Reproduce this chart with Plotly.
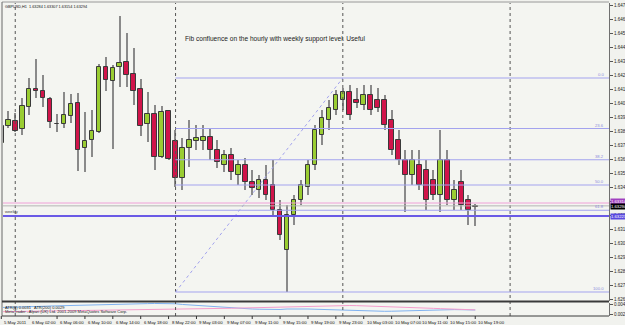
import plotly.graph_objects as go

W, H = 625, 325

symbol_info = "GBPUSD,H1  1.63284 1.63307 1.63154 1.63294"
note_text = "Fib confluence on the hourly with weekly support level. Useful"
atr_text = "ATR(8) 0.0031   ATR(200) 0.0029"
copyright_text = "MetaTrader - Alpari (UK) Ltd. 2001-2009 MetaQuotes Software Corp."

opens = [1.63734, 1.63853, 1.63888, 1.63832, 1.63986, 1.64112, 1.64098, 1.64042, 1.63867, 1.63867,
         1.63923, 1.64014, 1.63699, 1.63755, 1.63811, 1.64266, 1.64168, 1.64266, 1.64301, 1.64217,
         1.64112, 1.63867, 1.63937, 1.63636, 1.63958, 1.63748, 1.63489, 1.63699, 1.63748, 1.63748,
         1.63776, 1.63685, 1.63580, 1.63650, 1.63510, 1.63580, 1.63461, 1.63405, 1.63475, 1.63440,
         1.63265, 1.62985, 1.63230, 1.63335, 1.63426, 1.63580, 1.63790, 1.63895, 1.63965, 1.64035,
         1.64091, 1.64035, 1.64000, 1.64070, 1.64035, 1.64035, 1.63895, 1.63755, 1.63615, 1.63510,
         1.63580, 1.63545, 1.63475, 1.63370, 1.63615, 1.63335, 1.63461, 1.63335, 1.63284]
highs = [1.63916, 1.63958, 1.63944, 1.64049, 1.64189, 1.64322, 1.64210, 1.64056, 1.63937, 1.64091,
         1.64077, 1.64084, 1.63951, 1.63965, 1.64287, 1.64336, 1.64280, 1.64623, 1.64504, 1.64399,
         1.64182, 1.64091, 1.64000, 1.63993, 1.63965, 1.63825, 1.63769, 1.63895, 1.63860, 1.63860,
         1.63839, 1.63755, 1.63685, 1.63699, 1.63615, 1.63629, 1.63545, 1.63510, 1.63580, 1.63615,
         1.63335, 1.63300, 1.63370, 1.63475, 1.63615, 1.63860, 1.63965, 1.64035, 1.64105, 1.64119,
         1.64140, 1.64119, 1.64140, 1.64140, 1.64119, 1.64070, 1.63965, 1.63825, 1.63685, 1.63685,
         1.63685, 1.63615, 1.63545, 1.63825, 1.63685, 1.63475, 1.63545, 1.63370, 1.63307]
lows = [1.63713, 1.63839, 1.63811, 1.63790, 1.63930, 1.64049, 1.63986, 1.63839, 1.63811, 1.63839,
        1.63874, 1.63538, 1.63531, 1.63636, 1.63804, 1.64098, 1.63692, 1.64126, 1.64126, 1.64000,
        1.63783, 1.63741, 1.63545, 1.63629, 1.63615, 1.63426, 1.63405, 1.63566, 1.63685, 1.63685,
        1.63615, 1.63559, 1.63531, 1.63475, 1.63440, 1.63405, 1.63370, 1.63349, 1.63335, 1.63230,
        1.63055, 1.62691, 1.63160, 1.63300, 1.63370, 1.63545, 1.63720, 1.63825, 1.63930, 1.63965,
        1.63895, 1.63979, 1.63965, 1.63930, 1.63951, 1.63825, 1.63650, 1.63580, 1.63251, 1.63440,
        1.63405, 1.63265, 1.63335, 1.63251, 1.63300, 1.63265, 1.63265, 1.63160, 1.63154]
closes = [1.63853, 1.63895, 1.63818, 1.63993, 1.64112, 1.64098, 1.64049, 1.63881, 1.63864, 1.63930,
          1.64007, 1.63685, 1.63748, 1.63818, 1.64266, 1.64175, 1.64259, 1.64294, 1.64210, 1.64098,
          1.63853, 1.63937, 1.63636, 1.63951, 1.63622, 1.63489, 1.63699, 1.63755, 1.63769, 1.63776,
          1.63685, 1.63601, 1.63650, 1.63531, 1.63580, 1.63461, 1.63419, 1.63475, 1.63370, 1.63265,
          1.63090, 1.63230, 1.63335, 1.63440, 1.63580, 1.63825, 1.63909, 1.63979, 1.64070, 1.64091,
          1.63930, 1.64014, 1.64070, 1.63965, 1.63979, 1.63860, 1.63685, 1.63615, 1.63510, 1.63615,
          1.63440, 1.63335, 1.63370, 1.63615, 1.63335, 1.63405, 1.63300, 1.63265, 1.63294]

atr_fast = [0.00350, 0.00352, 0.00356, 0.00361, 0.00366, 0.00373, 0.00377, 0.00384, 0.00389, 0.00391,
            0.00396, 0.00400, 0.00407, 0.00407, 0.00412, 0.00419, 0.00423, 0.00425, 0.00430, 0.00435,
            0.00437, 0.00439, 0.00442, 0.00442, 0.00439, 0.00435, 0.00419, 0.00407, 0.00396, 0.00384,
            0.00373, 0.00361, 0.00350, 0.00338, 0.00327, 0.00320, 0.00315, 0.00310, 0.00306, 0.00304,
            0.00304, 0.00315, 0.00320, 0.00320, 0.00315, 0.00310, 0.00304, 0.00297, 0.00292, 0.00285,
            0.00281, 0.00274, 0.00269, 0.00264, 0.00262, 0.00262, 0.00264, 0.00269, 0.00274, 0.00281,
            0.00287, 0.00292, 0.00297, 0.00299, 0.00301, 0.00301, 0.00299, 0.00297, 0.00292]
atr_slow = [0.00253, 0.00255, 0.00256, 0.00258, 0.00259, 0.00260, 0.00262, 0.00263, 0.00265, 0.00267,
            0.00269, 0.00271, 0.00273, 0.00275, 0.00277, 0.00280, 0.00282, 0.00284, 0.00286, 0.00289,
            0.00292, 0.00294, 0.00297, 0.00299, 0.00302, 0.00304, 0.00307, 0.00310, 0.00313, 0.00316,
            0.00320, 0.00324, 0.00328, 0.00332, 0.00336, 0.00340, 0.00345, 0.00350, 0.00355, 0.00360,
            0.00365, 0.00370, 0.00375, 0.00380, 0.00385, 0.00390, 0.00393, 0.00395, 0.00396, 0.00396,
            0.00395, 0.00392, 0.00388, 0.00384, 0.00378, 0.00372, 0.00366, 0.00360, 0.00354, 0.00348,
            0.00342, 0.00336, 0.00330, 0.00324, 0.00318, 0.00312, 0.00306, 0.00300, 0.00295]

time_labels = ["5 May 2011", "6 May 02:00", "6 May 06:00", "6 May 10:00", "6 May 14:00", "6 May 18:00",
               "8 May 22:00", "9 May 03:00", "9 May 07:00", "9 May 11:00", "9 May 15:00", "9 May 19:00",
               "9 May 23:00", "10 May 03:00", "10 May 07:00", "10 May 11:00", "10 May 15:00", "10 May 19:00"]
label_step = 4
separator_idx = [2, 25, 49, 73]

price_ticks = [1.64700, 1.64602, 1.64504, 1.64406, 1.64308, 1.64210, 1.64112, 1.64014, 1.63916, 1.63818,
               1.63720, 1.63622, 1.63524, 1.63426, 1.63328, 1.63230, 1.63132, 1.63034, 1.62936, 1.62838,
               1.62740, 1.62642]
atr_ticks = [0.0043, 0.0020]
atr_tick_text = ["0.0043", "0.002"]

fib_high = 1.64189
fib_low = 1.62691
fib_anchor_idx = [25, 49]
fib_levels = [0.0, 23.6, 38.2, 50.0, 61.8, 100.0]
pink_level = 1.63314
weekly_level = 1.63223
bid_level = closes[-1]

# ---------------- layout geometry (pixels) ----------------
plot_l, plot_r = 3, 609
main_t, main_b = 3, 301
ind_t, ind_b = 302.5, 316
x_range = [0.244, 87.19]
y_range = [1.62628, 1.64714]
atr_range = [0.00154, 0.004645]

def px(x):
    return x / W

def py(y):
    return 1 - y / H

def xpaper(i):
    d0, d1 = px(plot_l), px(plot_r)
    return d0 + (i - x_range[0]) / (x_range[1] - x_range[0]) * (d1 - d0)

FONT = "Liberation Sans, Arial, sans-serif"
BULL = "#9acd32"
BEAR = "#d0144a"
EDGE = "#3a3a3a"
WICK = "#8a8a8a"
FIB = "#a3a3ee"

n = len(opens)
idx = list(range(n))
body_base = [min(o, c) for o, c in zip(opens, closes)]
body_h = [max(abs(c - o), 0.000012) for o, c in zip(opens, closes)]
body_col = [BULL if c > o else (BEAR if c < o else "#cccccc") for o, c in zip(opens, closes)]

fig = go.Figure()
fig.add_trace(go.Bar(x=idx, y=[h - l for h, l in zip(highs, lows)], base=lows, width=0.16,
                     marker=dict(color=WICK, line=dict(width=0)), xaxis="x", yaxis="y",
                     hoverinfo="skip"))
fig.add_trace(go.Bar(x=idx, y=body_h, base=body_base, width=0.66,
                     marker=dict(color=body_col, line=dict(color=EDGE, width=1)),
                     xaxis="x", yaxis="y", hoverinfo="skip"))
fig.add_trace(go.Scatter(x=idx, y=atr_fast, mode="lines", line=dict(color="#7fb2f0", width=1),
                         xaxis="x2", yaxis="y2", hoverinfo="skip"))
fig.add_trace(go.Scatter(x=idx, y=atr_slow, mode="lines", line=dict(color="#f59ccb", width=1),
                         xaxis="x2", yaxis="y2", hoverinfo="skip"))

shapes = []
for s in separator_idx:
    shapes.append(dict(type="line", xref="x", yref="paper", x0=s, x1=s, y0=py(ind_b), y1=py(main_t),
                       line=dict(color="#555555", width=1, dash="dot")))
fib_prices = [fib_high - lv / 100.0 * (fib_high - fib_low) for lv in fib_levels]
for fp in fib_prices:
    shapes.append(dict(type="line", xref="x", yref="y", x0=fib_anchor_idx[0], x1=x_range[1], y0=fp, y1=fp,
                       line=dict(color=FIB, width=1)))
shapes.append(dict(type="line", xref="x", yref="y", x0=fib_anchor_idx[0], x1=fib_anchor_idx[1],
                   y0=fib_low, y1=fib_high, line=dict(color=FIB, width=1, dash="dot")))
shapes.append(dict(type="line", xref="x domain", yref="y", x0=0, x1=1, y0=pink_level, y1=pink_level,
                   line=dict(color="#f0a0d8", width=1)))
shapes.append(dict(type="line", xref="x domain", yref="y", x0=0, x1=1, y0=bid_level, y1=bid_level,
                   line=dict(color="#b4b4b4", width=1)))
shapes.append(dict(type="line", xref="x domain", yref="y", x0=0, x1=1, y0=weekly_level, y1=weekly_level,
                   line=dict(color="#6a5ae6", width=2)))
shapes.append(dict(type="line", xref="paper", yref="paper", x0=px(plot_l - 1), x1=px(plot_r), y0=py(2), y1=py(2),
                   line=dict(color="#9a9a9a", width=1)))
shapes.append(dict(type="line", xref="paper", yref="paper", x0=px(2), x1=px(2), y0=py(ind_b), y1=py(2),
                   line=dict(color="#6a6a6a", width=1)))
shapes.append(dict(type="line", xref="paper", yref="paper", x0=px(2), x1=px(plot_r), y0=py(301.5), y1=py(301.5),
                   line=dict(color="#3a3a3a", width=2)))
shapes.append(dict(type="line", xref="paper", yref="paper", x0=px(2), x1=px(plot_r), y0=py(ind_b), y1=py(ind_b),
                   line=dict(color="#3a3a3a", width=1)))

annotations = []
annotations.append(dict(xref="paper", yref="paper", x=px(3), y=py(3.5), xanchor="left", yanchor="top",
                        text=symbol_info, showarrow=False, font=dict(family=FONT, size=3.8, color="#111111")))
annotations.append(dict(xref="paper", yref="paper", x=px(183), y=py(38.5), xanchor="left", yanchor="middle",
                        text=note_text, showarrow=False, font=dict(family=FONT, size=6.6, color="#222222")))
for lv, fp in zip(fib_levels, fib_prices):
    annotations.append(dict(xref="paper", yref="y", x=px(606), y=fp, xanchor="right", yanchor="bottom",
                            text=f"{lv:.1f}", showarrow=False, yshift=-1,
                            font=dict(family=FONT, size=4.2, color="#8c8cdc")))
annotations.append(dict(xref="paper", yref="y", x=px(3), y=weekly_level, xanchor="left", yanchor="bottom",
                        text="weekly", showarrow=False, yshift=0,
                        font=dict(family=FONT, size=4.2, color="#444444")))
for lvl, bg, fg, ys in [(pink_level, "#a040c0", "#ffffff", 2), (bid_level, "#000000", "#ffffff", -1),
                        (weekly_level, "#5a4ae0", "#ffffff", 0)]:
    annotations.append(dict(xref="paper", yref="y", x=px(609.5), y=lvl, xanchor="left", yanchor="middle",
                            text=f"{lvl:.5f}", showarrow=False, bgcolor=bg, borderpad=0, yshift=ys,
                            font=dict(family=FONT, size=4.2, color=fg)))
annotations.append(dict(xref="paper", yref="paper", x=px(3), y=py(303), xanchor="left", yanchor="top",
                        text=atr_text, showarrow=False, font=dict(family=FONT, size=4, color="#111111")))
annotations.append(dict(xref="paper", yref="paper", x=px(3), y=py(316), xanchor="left", yanchor="bottom",
                        text=copyright_text, showarrow=False, font=dict(family=FONT, size=4, color="#222222")))
for k, lab in enumerate(time_labels):
    i = k * label_step
    annotations.append(dict(xref="paper", yref="paper", x=xpaper(i), y=py(317.5), xanchor="left", yanchor="top",
                            text=lab, showarrow=False, xshift=1,
                            font=dict(family=FONT, size=4.3, color="#111111")))
    shapes.append(dict(type="line", xref="paper", yref="paper", x0=xpaper(i), x1=xpaper(i), y0=py(316), y1=py(319),
                       line=dict(color="#333333", width=1)))

fig.update_layout(
    width=W, height=H, margin=dict(l=0, r=0, t=0, b=0),
    paper_bgcolor="#f1f2ee", plot_bgcolor="#f4f5f1",
    showlegend=False, barmode="overlay", bargap=0, hovermode=False,
    shapes=shapes, annotations=annotations,
    xaxis=dict(domain=[px(plot_l), px(plot_r)], range=x_range, anchor="y", showticklabels=False,
               showgrid=False, zeroline=False, showline=False, fixedrange=True),
    yaxis=dict(domain=[py(main_b), py(main_t)], range=y_range, side="right", anchor="x",
               tickvals=price_ticks, ticktext=[f"{t:.5f}" for t in price_ticks],
               ticks="outside", ticklen=3, tickcolor="#555555", tickfont=dict(family=FONT, size=4.5, color="#222222"),
               showline=True, linecolor="#707070", linewidth=1, showgrid=False, zeroline=False,
               automargin=False, fixedrange=True),
    xaxis2=dict(domain=[px(plot_l), px(plot_r)], range=x_range, anchor="y2", showticklabels=False,
                showgrid=False, zeroline=False, showline=False, matches="x"),
    yaxis2=dict(domain=[py(ind_b), py(ind_t)], range=atr_range, side="right", anchor="x2",
                tickvals=atr_ticks, ticktext=atr_tick_text,
                ticks="outside", ticklen=3, tickcolor="#555555", tickfont=dict(family=FONT, size=4.5, color="#222222"),
                showline=True, linecolor="#707070", linewidth=1, showgrid=False, zeroline=False,
                automargin=False, fixedrange=True),
)

fig.write_html("out.html", config={"displayModeBar": False})
